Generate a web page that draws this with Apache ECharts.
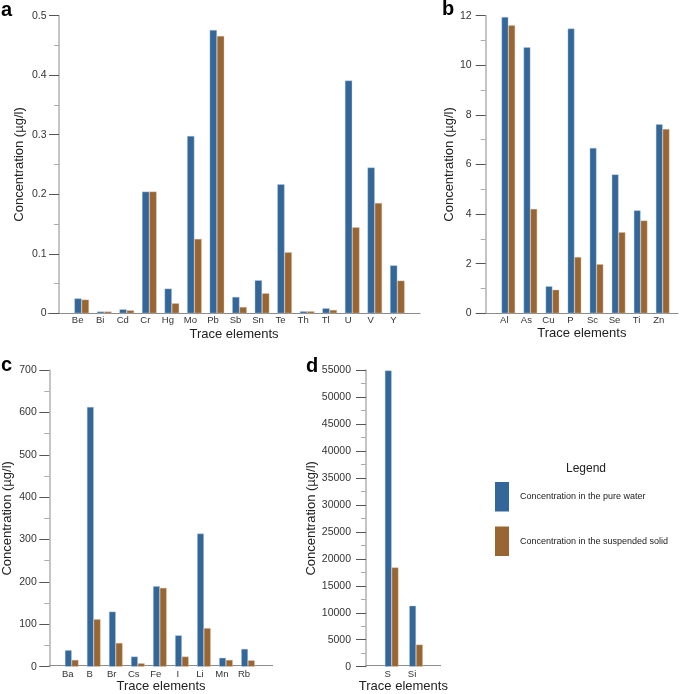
<!DOCTYPE html>
<html>
<head>
<meta charset="utf-8">
<script src="https://cdn.jsdelivr.net/npm/echarts@6/dist/echarts.min.js"></script>
<style>html,body{margin:0;padding:0;background:#fff}#chart{width:685px;height:694px}</style>
</head>
<body>
<div id="chart"></div>
<script>
// ---- data ----
const seriesNames = ['Concentration in the pure water', 'Concentration in the suspended solid'];

const elementsA = ['Be','Bi','Cd','Cr','Hg','Mo','Pb','Sb','Sn','Te','Th','Tl','U','V','Y'];
const pureA  = [0.025, 0.003, 0.0067, 0.2045, 0.0415, 0.298, 0.476, 0.0275, 0.0555, 0.217, 0.0034, 0.0085, 0.391, 0.245, 0.0805];
const solidA = [0.023, 0.003, 0.005, 0.2045, 0.0168, 0.125, 0.466, 0.0106, 0.0336, 0.1025, 0.0034, 0.0056, 0.1445, 0.1853, 0.0549];

const elementsB = ['Al','As','Cu','P','Sc','Se','Ti','Zn'];
const pureB  = [11.95, 10.73, 1.09, 11.48, 6.67, 5.6, 4.15, 7.62];
const solidB = [11.61, 4.21, 0.95, 2.27, 1.98, 3.27, 3.74, 7.43];

const elementsC = ['Ba','B','Br','Cs','Fe','I','Li','Mn','Rb'];
const pureC  = [39, 613, 130, 24, 190, 74, 314, 21, 42];
const solidC = [16, 112, 56, 8, 186, 24, 91, 16, 15];

const elementsD = ['S','Si'];
const pureD  = [54900, 11300];
const solidD = [18400, 4100];

const yMaxes = [0.5, 12, 700, 55000];
const yIntervals = [0.1, 2, 100, 5000];
const panelLetters = ['a','b','c','d'];
const yTitle = 'Concentration (µg/l)';
const xTitle = 'Trace elements';

// ---- layout ----
const BLUE = '#336699', BROWN = '#996633';
const FONT = '"Liberation Sans", Arial, Helvetica, sans-serif';
const panels = [
  {cats: elementsA, pure: pureA, solid: solidA, axisX: 48,    dataL: 59.4,  dataR: 408.6, frameR: 420,   top: 15.7, bottom: 313.3, barW: 7.3, yNameGap: 33.5, xNameGap: 14.5, labelMargin: 12.5},
  {cats: elementsB, pure: pureB, solid: solidB, axisX: 485.7, dataL: 497.3, dataR: 673.7, frameR: 678,   top: 15.7, bottom: 313.3, barW: 6.8, yNameGap: 28,   xNameGap: 13.5, labelMargin: 14},
  {cats: elementsC, pure: pureC, solid: solidC, axisX: 49.3,  dataL: 60.7,  dataR: 259,   frameR: 272.7, top: 370,  bottom: 666.7, barW: 6.8, yNameGap: 35,   xNameGap: 15,   labelMargin: 12.5},
  {cats: elementsD, pure: pureD, solid: solidD, axisX: 366,   dataL: 379.5, dataR: 428.2, frameR: 440.7, top: 370,  bottom: 666.7, barW: 6.8, yNameGap: 48.5, xNameGap: 15,   labelMargin: 15}
];

const grid = [], xAxis = [], yAxis = [], series = [], title = [];
panels.forEach((p, i) => {
  grid.push({left: p.dataL, top: p.top, width: p.dataR - p.dataL, height: p.bottom - p.top, containLabel: false});
  grid.push({left: p.axisX, top: p.top, width: p.frameR - p.axisX, height: p.bottom - p.top, containLabel: false});
  const gd = 2 * i, gf = 2 * i + 1;
  xAxis.push({
    type: 'category', gridIndex: gd, data: p.cats, boundaryGap: true,
    axisLine: {show: false}, axisTick: {show: false}, splitLine: {show: false},
    axisLabel: {fontSize: 9.5, color: '#333', margin: 2.5, padding: [0, 8, 0, 0], fontFamily: FONT, interval: 0}
  });
  xAxis.push({
    type: 'value', gridIndex: gf, min: 0, max: 1,
    axisLine: {show: true, lineStyle: {color: '#8c8c8c', width: 1}},
    axisTick: {show: false}, axisLabel: {show: false}, splitLine: {show: false},
    name: xTitle, nameLocation: 'middle', nameGap: p.xNameGap,
    nameTextStyle: {fontSize: 13, color: '#222', fontFamily: FONT}
  });
  yAxis.push({
    type: 'value', gridIndex: gd, min: 0, max: yMaxes[i], interval: yIntervals[i],
    offset: p.dataL - p.axisX,
    axisLine: {show: true, lineStyle: {color: '#b0b0b0', width: 1.5}},
    axisTick: {show: true, length: 10, lineStyle: {color: '#555', width: 1}},
    minorTick: {show: true, splitNumber: 2, length: 5, lineStyle: {color: '#aaa', width: 1}},
    splitLine: {show: false}, minorSplitLine: {show: false},
    axisLabel: {fontSize: 10.5, color: '#333', margin: p.labelMargin, fontFamily: FONT,
      formatter: v => String(v)},
    name: yTitle, nameLocation: 'middle', nameGap: p.yNameGap, nameRotate: 90,
    nameTextStyle: {fontSize: 13, color: '#222', fontFamily: FONT}
  });
  yAxis.push({type: 'value', gridIndex: gf, min: 0, max: 1, show: false});
  const xi = 2 * i, yi = 2 * i;
  series.push({
    type: 'bar', name: seriesNames[0], xAxisIndex: xi, yAxisIndex: yi, data: p.pure,
    barWidth: p.barW, barGap: '0%',
    itemStyle: {color: BLUE, borderColor: 'rgba(190,205,222,0.8)', borderWidth: 0.5},
    emphasis: {disabled: true}
  });
  series.push({
    type: 'bar', name: seriesNames[1], xAxisIndex: xi, yAxisIndex: yi, data: p.solid,
    barWidth: p.barW, barGap: '0%',
    itemStyle: {color: BROWN, borderColor: 'rgba(215,195,172,0.8)', borderWidth: 0.5},
    emphasis: {disabled: true}
  });
});

const letterPos = [[1, 0], [442, -1], [1, 355], [306, 356]];
panelLetters.forEach((l, i) => {
  title.push({text: l, left: letterPos[i][0], top: letterPos[i][1], padding: 0,
    textStyle: {fontSize: 20, fontWeight: 'bold', color: '#000', fontFamily: FONT}});
});
title.push({text: 'Legend', left: 566, top: 463, padding: 0,
  textStyle: {fontSize: 12, fontWeight: 'normal', color: '#222', fontFamily: FONT}});

const option = {
  animation: false,
  textStyle: {fontFamily: FONT},
  title: title,
  grid: grid,
  xAxis: xAxis,
  yAxis: yAxis,
  legend: {
    data: seriesNames, orient: 'vertical', left: 495, top: 482, padding: 0,
    itemWidth: 14, itemHeight: 29.5, itemGap: 15, icon: 'rect', selectedMode: false,
    itemStyle: {borderWidth: 0},
    textStyle: {fontSize: 9, color: '#222', padding: [2, 0, 0, 6], fontFamily: FONT}
  },
  series: series
};

const chart = echarts.init(document.getElementById('chart'), null, {renderer: 'canvas'});
chart.setOption(option);
</script>
</body>
</html>
